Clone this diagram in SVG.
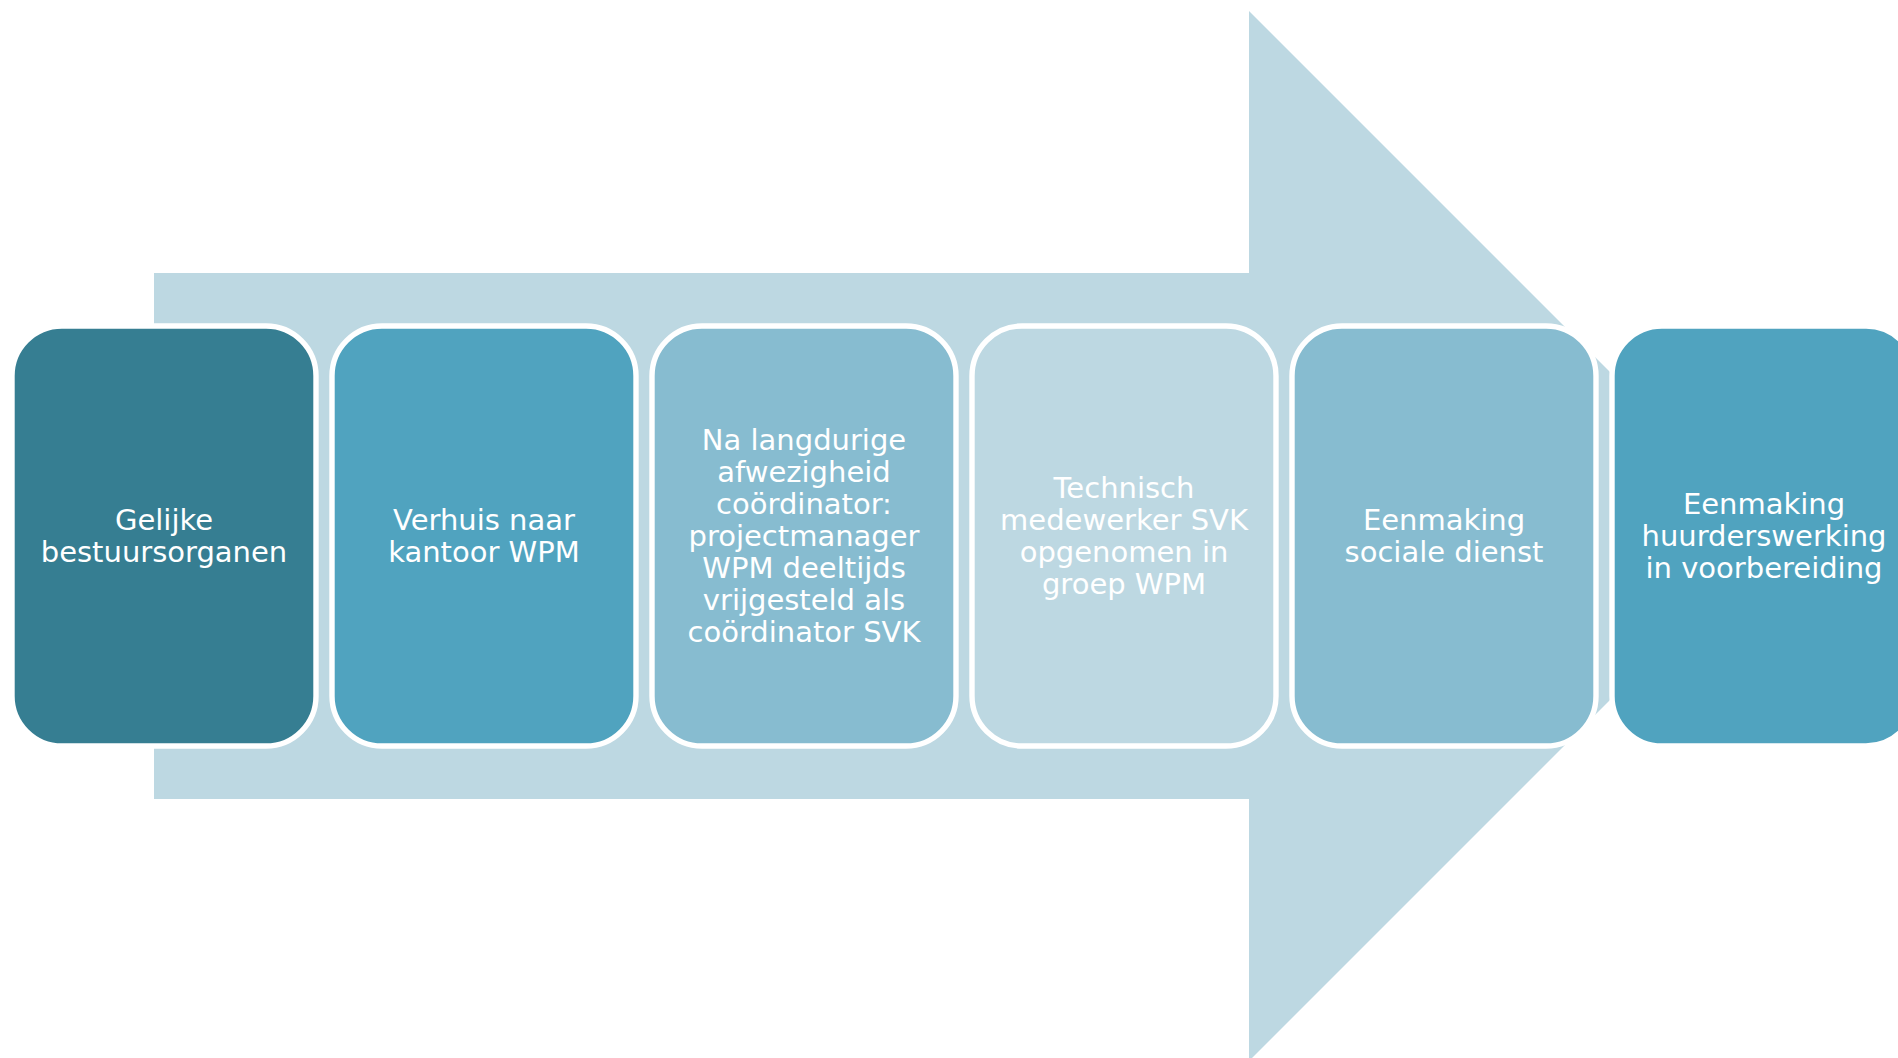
<svg xmlns="http://www.w3.org/2000/svg" width="1898" height="1058" viewBox="0 0 1898 1058">
<style>
.box{stroke:#FFFFFF;stroke-width:5.4}
.t{font-family:"DejaVu Sans","Verdana",sans-serif;font-size:29px;fill:#FFFFFF;text-anchor:middle}
</style>
<rect width="1898" height="1058" fill="#FFFFFF"/>
<g id="connectors">
<path id="arrow" d="M154,273 L1249,273 L1249,11 L1774,536 L1249,1061 L1249,799 L154,799 Z" fill="#BDD8E2"/>
</g>
<g id="node1">
<rect class="box" x="12" y="326" width="304" height="420" rx="50" fill="#367E92"/>
<text class="t" x="164" y="530">Gelijke</text>
<text class="t" x="164" y="562">bestuursorganen</text>
</g>
<g id="node2">
<rect class="box" x="332" y="326" width="304" height="420" rx="50" fill="#50A3BF"/>
<text class="t" x="484" y="530">Verhuis naar</text>
<text class="t" x="484" y="562">kantoor WPM</text>
</g>
<g id="node3">
<rect class="box" x="652" y="326" width="304" height="420" rx="50" fill="#87BCD0"/>
<text class="t" x="804" y="450">Na langdurige</text>
<text class="t" x="804" y="482">afwezigheid</text>
<text class="t" x="804" y="514">coördinator:</text>
<text class="t" x="804" y="546">projectmanager</text>
<text class="t" x="804" y="578">WPM deeltijds</text>
<text class="t" x="804" y="610">vrijgesteld als</text>
<text class="t" x="804" y="642">coördinator SVK</text>
</g>
<g id="node4">
<rect class="box" x="972" y="326" width="304" height="420" rx="50" fill="#BDD8E2"/>
<text class="t" x="1124" y="498">Technisch</text>
<text class="t" x="1124" y="530">medewerker SVK</text>
<text class="t" x="1124" y="562">opgenomen in</text>
<text class="t" x="1124" y="594">groep WPM</text>
</g>
<g id="node5">
<rect class="box" x="1292" y="326" width="304" height="420" rx="50" fill="#87BCD0"/>
<text class="t" x="1444" y="530">Eenmaking</text>
<text class="t" x="1444" y="562">sociale dienst</text>
</g>
<g id="node6">
<rect class="box" x="1612" y="326" width="304" height="420" rx="50" fill="#50A3BF"/>
<text class="t" x="1764" y="514">Eenmaking</text>
<text class="t" x="1764" y="546">huurderswerking</text>
<text class="t" x="1764" y="578">in voorbereiding</text>
</g>
</svg>
